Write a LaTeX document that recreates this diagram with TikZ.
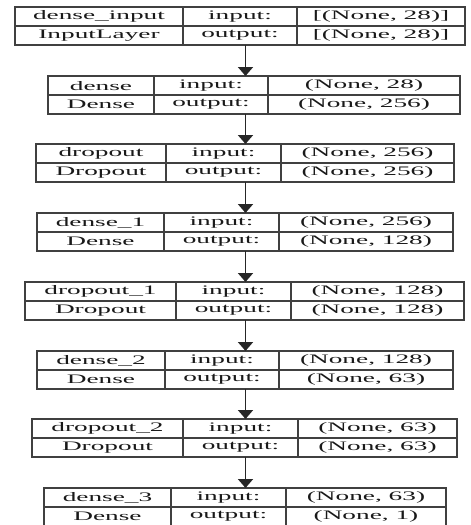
\documentclass[tikz,border=0pt]{standalone}
\usepackage{fontspec}
\setmainfont{Liberation Serif}
\usetikzlibrary{arrows.meta}
\newcommand\sxtext[1]{\scalebox{2.1}[1]{#1}}
\tikzset{
  box/.style={draw=black!75, line width=1.6pt, inner sep=0pt, outer sep=0pt, rectangle},
  sepline/.style={draw=black!75, line width=1.6pt},
  lbl/.style={inner sep=0pt, font=\fontsize{13}{15}\selectfont, text=black!90},
  arr/.style={draw=black!85, line width=1.8pt, -{Triangle[width=15pt,length=9pt]}},
}
\begin{document}
\begin{tikzpicture}[x=1pt,y=-1pt]
\useasboundingbox (0,0) rectangle (471,525);
\coordinate (ax) at (245.5,0);
\foreach \i/\t/\l/\a/\b/\r/\n/\k/\ii/\oo in {
 1/7/15/183/297/465/{dense\_input}/{InputLayer}/{[(None, 28)]}/{[(None, 28)]},
 2/76/48/154/268/460/{dense}/{Dense}/{(None, 28)}/{(None, 256)},
 3/144/36/166/281/454/{dropout}/{Dropout}/{(None, 256)}/{(None, 256)},
 4/213/37/164/279/453/{dense\_1}/{Dense}/{(None, 256)}/{(None, 128)},
 5/282/25/176/291/464/{dropout\_1}/{Dropout}/{(None, 128)}/{(None, 128)},
 6/351/37/165/279/453/{dense\_2}/{Dense}/{(None, 128)}/{(None, 63)},
 7/419/32/183/298/457/{dropout\_2}/{Dropout}/{(None, 63)}/{(None, 63)},
 8/488/44/171/286/446/{dense\_3}/{Dense}/{(None, 63)}/{(None, 1)}}
{
  \pgfmathsetmacro\bw{\r-\l}
  \pgfmathsetmacro\cx{(\l+\r)/2}
  \node[box, minimum width=\bw pt, minimum height=38pt] (L\i) at (\cx,\t+19) {};
  \draw[sepline] (L\i.west) -- (L\i.east);
  \draw[sepline] (\a,\t) -- (\a,\t+38);
  \draw[sepline] (\b,\t) -- (\b,\t+38);
  \node[lbl] (N\i) at ({(\l+\a)/2},\t+9.7) {\sxtext{\n}};
  \node[lbl] (K\i) at ({(\l+\a)/2},\t+28.7) {\sxtext{\k}};
  \node[lbl] (I\i) at ({(\a+\b)/2},\t+9.7) {\sxtext{input:}};
  \node[lbl] (O\i) at ({(\a+\b)/2},\t+28.7) {\sxtext{output:}};
  \node[lbl] (S\i) at ({(\b+\r)/2},\t+9.7) {\sxtext{\ii}};
  \node[lbl] (T\i) at ({(\b+\r)/2},\t+28.7) {\sxtext{\oo}};
}
\foreach \i/\j in {1/2,2/3,3/4,4/5,5/6,6/7,7/8}
  \draw[arr] (L\i.south -| ax) -- (L\j.north -| ax);
\end{tikzpicture}
\end{document}
